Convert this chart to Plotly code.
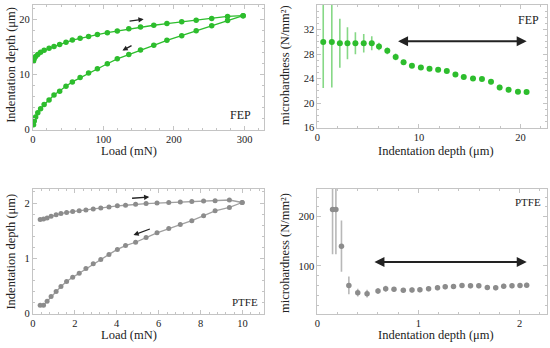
import plotly.graph_objects as go

# ---------------- data ----------------
# FEP load-depth (loading / unloading)
fep_load_up = [1, 2, 4, 7, 11, 16, 23, 30, 38, 47, 56, 67, 79, 91.5, 105.6, 119.7,
               136, 152.6, 171.4, 190, 211, 231.5, 253.5, 276, 298]
fep_depth_up = [12.5, 12.9, 13.3, 13.7, 14.1, 14.45, 14.8, 15.15, 15.5, 15.9, 16.3,
                16.65, 16.95, 17.3, 17.65, 17.95, 18.35, 18.7, 19.0, 19.3, 19.65,
                19.9, 20.25, 20.6, 20.75]
fep_load_down = [298, 276, 253.5, 231.5, 211, 190, 171.4, 152.6, 136, 119.7, 105.6,
                 91.5, 79, 67, 56, 47, 38, 30, 23, 16, 11, 7, 4, 2, 1]
fep_depth_down = [20.75, 19.85, 18.9, 18.0, 17.1, 16.25, 15.35, 14.5, 13.7, 12.9, 12.0,
                  11.1, 10.3, 9.5, 8.7, 7.9, 7.0, 6.3, 5.4, 4.6, 3.8, 3.1, 2.3, 1.6, 0.9]

# FEP microhardness vs depth
fep_h_depth = [0.585, 1.43, 2.22, 2.97, 3.75, 4.57, 5.36, 6.07, 6.89, 7.71, 8.49, 9.31,
               10.19, 11.04, 11.89, 12.74, 13.59, 14.41, 15.32, 16.2, 17.09, 17.94,
               18.82, 19.74, 20.59]
fep_h = [29.97, 29.95, 29.76, 29.76, 29.76, 29.76, 29.76, 29.23, 28.53, 27.52, 26.67,
         26.08, 25.81, 25.6, 25.44, 25.23, 24.69, 24.27, 24.0, 23.95, 23.47, 22.56,
         22.19, 21.87, 21.81]
fep_h_err = [7.5, 7.4, 4.0, 2.6, 1.8, 1.5, 1.15, 0.6, 0.55, 0.55, 0.4, 0.3, 0.3, 0.3,
             0.3, 0.3, 0.3, 0.3, 0.3, 0.3, 0.4, 0.45, 0.4, 0.35, 0.35]

# PTFE load-depth
ptfe_load_up = [0.35, 0.51, 0.68, 0.87, 1.11, 1.34, 1.61, 1.90, 2.21, 2.53, 2.88, 3.24,
                3.63, 4.03, 4.42, 4.9, 5.4, 5.92, 6.48, 7.03, 7.58, 8.14, 8.69, 9.37, 9.98]
ptfe_depth_up = [1.70, 1.71, 1.73, 1.76, 1.79, 1.81, 1.83, 1.845, 1.86, 1.875, 1.89,
                 1.91, 1.93, 1.95, 1.96, 1.98, 1.99, 2.0, 2.01, 2.02, 2.03, 2.035, 2.04,
                 2.055, 2.01]
ptfe_load_down = [9.98, 9.37, 8.69, 8.14, 7.58, 7.03, 6.48, 5.92, 5.4, 4.9, 4.42, 4.03,
                  3.63, 3.24, 2.88, 2.53, 2.21, 1.90, 1.61, 1.34, 1.11, 0.87, 0.68, 0.51, 0.35]
ptfe_depth_down = [2.01, 1.92, 1.86, 1.77, 1.68, 1.61, 1.54, 1.46, 1.375, 1.29, 1.23,
                   1.16, 1.07, 0.98, 0.90, 0.815, 0.73, 0.655, 0.58, 0.49, 0.40, 0.31,
                   0.22, 0.15, 0.149]

# PTFE microhardness vs depth
ptfe_h_depth = [0.151, 0.184, 0.239, 0.312, 0.40, 0.492, 0.60, 0.676, 0.758, 0.85, 0.936,
                1.014, 1.10, 1.188, 1.264, 1.346, 1.43, 1.514, 1.596, 1.68, 1.763, 1.842,
                1.924, 2.003, 2.069]
ptfe_h = [214.7, 214.7, 140.1, 60.1, 45.4, 43.4, 48.7, 53.4, 52.1, 50.1, 50.7, 51.4,
          53.4, 55.4, 57.4, 58.1, 60.1, 59.4, 59.4, 56.1, 55.4, 58.7, 59.4, 60.1, 60.7]
ptfe_h_err = [91, 91, 52, 18, 8, 8, 6, 6, 5, 5, 5, 5, 5, 5, 5, 5, 5, 5, 5, 5, 5, 5, 5, 5, 5]

# ---------------- style ----------------
GREEN = "#2dbd2d"
GREEN_ERR = "#86d886"
GRAY = "#8c8c8c"
GRAY_ERR = "#b8b8b8"
FRAME = "#c4c4c4"
FONT = "Liberation Serif"
TXT = "#222222"

fig = go.Figure()

# Panel 1
fig.add_trace(go.Scatter(x=fep_load_up, y=fep_depth_up, mode="lines+markers",
                         line=dict(color=GREEN, width=1.3), marker=dict(color=GREEN, size=5.5),
                         xaxis="x", yaxis="y", showlegend=False))
fig.add_trace(go.Scatter(x=fep_load_down, y=fep_depth_down, mode="lines+markers",
                         line=dict(color=GREEN, width=1.3), marker=dict(color=GREEN, size=5.5),
                         xaxis="x", yaxis="y", showlegend=False))
# Panel 2
fig.add_trace(go.Scatter(x=fep_h_depth, y=fep_h, mode="markers",
                         marker=dict(color=GREEN, size=6),
                         error_y=dict(type="data", array=fep_h_err, color=GREEN_ERR,
                                      thickness=1.6, width=0),
                         xaxis="x2", yaxis="y2", showlegend=False))
# Panel 3
fig.add_trace(go.Scatter(x=ptfe_load_up, y=ptfe_depth_up, mode="lines+markers",
                         line=dict(color="#a0a0a0", width=1.3), marker=dict(color=GRAY, size=5),
                         xaxis="x3", yaxis="y3", showlegend=False))
fig.add_trace(go.Scatter(x=ptfe_load_down, y=ptfe_depth_down, mode="lines+markers",
                         line=dict(color="#a0a0a0", width=1.3), marker=dict(color=GRAY, size=5),
                         xaxis="x3", yaxis="y3", showlegend=False))
# Panel 4
fig.add_trace(go.Scatter(x=ptfe_h_depth, y=ptfe_h, mode="markers",
                         marker=dict(color=GRAY, size=5.5),
                         error_y=dict(type="data", array=ptfe_h_err, color=GRAY_ERR,
                                      thickness=1.6, width=0),
                         xaxis="x4", yaxis="y4", showlegend=False))

W, H = 550, 348


def xd(a, b):
    return [a / W, b / W]


def yd(bottom, top):
    return [1 - bottom / H, 1 - top / H]


def ax(domain, rng, dtick, minor_dtick, anchor):
    return dict(domain=domain, range=rng, dtick=dtick, tick0=0, anchor=anchor,
                showline=True, linecolor=FRAME, linewidth=1, mirror="allticks",
                ticks="inside", ticklen=4, tickcolor=FRAME, tickwidth=1,
                minor=dict(ticks="inside", ticklen=2, dtick=minor_dtick, tickcolor=FRAME),
                showgrid=False, zeroline=False,
                tickfont=dict(family=FONT, size=10.5, color=TXT), ticklabelstandoff=0)


fig.update_layout(
    width=W, height=H, margin=dict(l=0, r=0, t=0, b=0),
    paper_bgcolor="white", plot_bgcolor="white",
    xaxis=ax(xd(30, 262), [0, 327], 100, 20, "y"),
    yaxis=ax(yd(132, 5), [0, 22.7], 10, 2, "x"),
    xaxis2=ax(xd(316, 547), [0, 22.6], 10, 2, "y2"),
    yaxis2=ax(yd(130, 5), [16, 36], 4, 1, "x2"),
    xaxis3=ax(xd(30, 262), [0, 11], 2, 0.4, "y3"),
    yaxis3=ax(yd(319, 192), [0, 2.26], 1, 0.2, "x3"),
    xaxis4=ax(xd(316, 547), [0, 2.27], 1, 0.2, "y4"),
    yaxis4=ax(yd(319, 192), [3, 257], 100, 20, "x4"),
)

ann = []


def label(text, x, y, size=12.5, angle=0):
    ann.append(dict(text=text, x=x / W, y=1 - y / H, xref="paper", yref="paper",
                    showarrow=False, textangle=angle, xanchor="center", yanchor="middle",
                    font=dict(family=FONT, size=size, color=TXT)))


# axis titles
label("Load (mN)", 127, 154)
label("Indentation depth (μm)", 8, 66, angle=-90)
label("Indentation depth (μm)", 435, 154)
label("microhardness (N/mm²)", 283, 66, angle=-90)
label("Load (mN)", 127, 341)
label("Indentation depth (μm)", 8, 256, angle=-90)
label("Indentation depth (μm)", 435, 341)
label("microhardness (N/mm²)", 283, 257, angle=-90)
# material labels
label("FEP", 239, 117, size=12)
label("FEP", 528, 20, size=12)
label("PTFE", 243, 307, size=11)
label("PTFE", 528, 206, size=11)


def arrow(xr, yr, x0, y0, x1, y1, both=False, width=1.3, size=0.8):
    ann.append(dict(x=x1, y=y1, ax=x0, ay=y0, xref=xr, yref=yr, axref=xr, ayref=yr,
                    text="", showarrow=True, arrowhead=2, arrowsize=size,
                    arrowwidth=width, arrowcolor="#222222",
                    arrowside="end+start" if both else "end"))


arrow("x", "y", 135, 19.7, 157, 20.1)
arrow("x", "y", 142, 15.45, 127, 14.4)
arrow("x2", "y2", 7.8, 30.1, 20.6, 30.1, both=True, width=2, size=1)
arrow("x3", "y3", 4.66, 2.085, 5.55, 2.11)
arrow("x3", "y3", 5.65, 1.54, 4.8, 1.42)
arrow("x4", "y4", 0.55, 108, 2.07, 108, both=True, width=2, size=1)

fig.update_layout(annotations=ann)
fig.write_html("out.html", config={"displayModeBar": False},
               post_script="document.body.style.margin='0px';")
